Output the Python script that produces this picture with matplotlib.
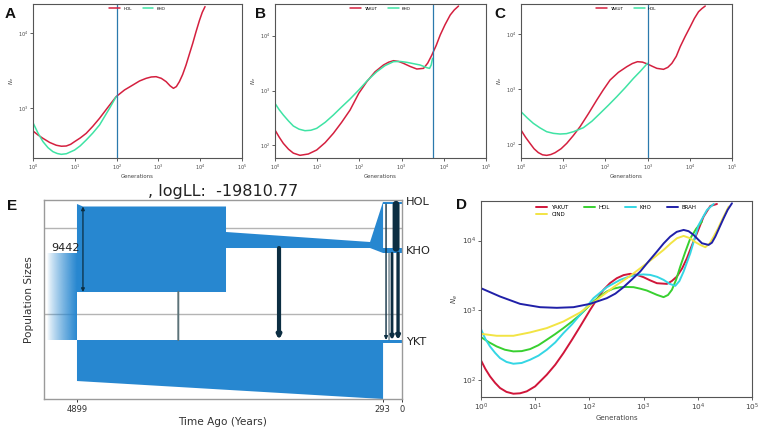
import numpy as np
import matplotlib
matplotlib.use("Agg")
import matplotlib.pyplot as plt
from matplotlib.ticker import LogLocator, NullLocator
import matplotlib.transforms as mtransforms

# ---------------- data ----------------
# Panels A-D: log10(generations) and log10(Ne)
A_hol_lg = [0.000, 0.12, 0.239, 0.40, 0.557, 0.68, 0.796, 0.90, 0.995, 1.13, 1.274, 1.43, 1.592, 1.791, 1.990, 2.19, 2.389, 2.55, 2.707, 2.83, 2.946, 3.07, 3.185, 3.28, 3.360, 3.43, 3.503, 3.58, 3.662, 3.74, 3.822, 3.90, 3.981, 4.05, 4.116]
A_hol_ln = [2.698, 2.645, 2.600, 2.545, 2.508, 2.495, 2.498, 2.520, 2.556, 2.605, 2.667, 2.760, 2.867, 3.013, 3.156, 3.245, 3.311, 3.365, 3.400, 3.418, 3.422, 3.400, 3.356, 3.300, 3.267, 3.290, 3.356, 3.450, 3.578, 3.720, 3.867, 4.020, 4.169, 4.280, 4.356]
A_kho_lg = [0.000, 0.12, 0.239, 0.36, 0.478, 0.58, 0.677, 0.80, 0.995, 1.13, 1.274, 1.43, 1.592, 1.831, 1.990]
A_kho_ln = [2.809, 2.670, 2.556, 2.475, 2.422, 2.398, 2.387, 2.395, 2.444, 2.500, 2.578, 2.670, 2.778, 3.000, 3.156]
A_split = 100

B_yak_lg = [0.000, 0.10, 0.198, 0.32, 0.435, 0.593, 0.791, 0.989, 1.19, 1.384, 1.58, 1.780, 1.986, 2.176, 2.37, 2.571, 2.69, 2.809, 2.93, 3.046, 3.20, 3.362, 3.521, 3.62, 3.718, 3.82, 3.916, 4.03, 4.153, 4.25, 4.351]
B_yak_ln = [2.280, 2.150, 2.036, 1.930, 1.858, 1.818, 1.842, 1.915, 2.050, 2.219, 2.420, 2.644, 2.948, 3.161, 3.340, 3.465, 3.515, 3.544, 3.530, 3.495, 3.440, 3.392, 3.404, 3.500, 3.647, 3.820, 4.012, 4.200, 4.377, 4.470, 4.541]
B_kho_lg = [0.000, 0.10, 0.198, 0.32, 0.435, 0.57, 0.712, 0.85, 0.989, 1.19, 1.384, 1.58, 1.780, 1.986, 2.20, 2.413, 2.61, 2.809, 2.97, 3.125, 3.28, 3.441, 3.600, 3.663, 3.703, 3.734]
B_kho_ln = [2.766, 2.650, 2.553, 2.445, 2.353, 2.295, 2.267, 2.275, 2.310, 2.420, 2.553, 2.700, 2.845, 3.009, 3.190, 3.343, 3.455, 3.526, 3.530, 3.514, 3.490, 3.465, 3.416, 3.404, 3.465, 3.587]
B_split = 5420

C_yak_lg = [0.000, 0.107, 0.214, 0.31, 0.411, 0.51, 0.609, 0.707, 0.807, 0.95, 1.084, 1.24, 1.400, 1.60, 1.796, 1.95, 2.112, 2.31, 2.508, 2.64, 2.761, 2.88, 2.998, 3.11, 3.220, 3.378, 3.48, 3.576, 3.68, 3.774, 3.89, 4.011, 4.11, 4.209, 4.29, 4.367]
C_yak_ln = [2.261, 2.130, 2.018, 1.920, 1.850, 1.810, 1.800, 1.815, 1.848, 1.920, 2.018, 2.160, 2.321, 2.560, 2.806, 2.990, 3.170, 3.310, 3.412, 3.470, 3.503, 3.495, 3.461, 3.420, 3.382, 3.364, 3.400, 3.473, 3.600, 3.776, 3.960, 4.139, 4.290, 4.412, 4.470, 4.515]
C_hol_lg = [0.000, 0.15, 0.293, 0.45, 0.609, 0.77, 0.926, 1.08, 1.242, 1.479, 1.68, 1.875, 2.07, 2.271, 2.47, 2.666, 2.83, 2.998]
C_hol_ln = [2.594, 2.480, 2.382, 2.300, 2.230, 2.200, 2.188, 2.195, 2.230, 2.303, 2.420, 2.564, 2.710, 2.867, 3.030, 3.200, 3.330, 3.473]
C_split = 1000

D_yak_lg = [0.000, 0.08, 0.166, 0.26, 0.351, 0.47, 0.597, 0.72, 0.844, 0.998, 1.213, 1.37, 1.521, 1.68, 1.829, 2.014, 2.14, 2.260, 2.38, 2.506, 2.63, 2.752, 2.87, 2.999, 3.12, 3.245, 3.430, 3.52, 3.614, 3.71, 3.799, 3.89, 3.984, 4.107, 4.230, 4.353]
D_yak_ln = [2.282, 2.160, 2.053, 1.960, 1.886, 1.830, 1.804, 1.810, 1.838, 1.909, 2.076, 2.220, 2.387, 2.580, 2.768, 3.007, 3.160, 3.294, 3.390, 3.461, 3.505, 3.523, 3.510, 3.475, 3.430, 3.389, 3.379, 3.420, 3.484, 3.600, 3.747, 3.930, 4.105, 4.344, 4.496, 4.525]
D_hol_lg = [0.000, 0.14, 0.289, 0.44, 0.597, 0.75, 0.905, 1.06, 1.213, 1.37, 1.521, 1.68, 1.829, 2.075, 2.20, 2.321, 2.44, 2.568, 2.69, 2.814, 2.94, 3.060, 3.245, 3.368, 3.45, 3.522, 3.60, 3.676, 3.77, 3.861, 3.97, 4.076]
D_hol_ln = [2.616, 2.545, 2.482, 2.435, 2.411, 2.415, 2.444, 2.500, 2.578, 2.660, 2.745, 2.840, 2.936, 3.126, 3.205, 3.270, 3.310, 3.332, 3.335, 3.332, 3.310, 3.284, 3.222, 3.189, 3.220, 3.294, 3.440, 3.628, 3.840, 4.031, 4.170, 4.272]
D_kho_lg = [0.000, 0.08, 0.166, 0.26, 0.351, 0.47, 0.597, 0.75, 0.905, 1.06, 1.213, 1.37, 1.521, 1.68, 1.829, 2.075, 2.321, 2.568, 2.72, 2.876, 3.00, 3.122, 3.25, 3.368, 3.48, 3.584, 3.66, 3.738, 3.861, 4.015, 4.169, 4.292]
D_kho_ln = [2.730, 2.590, 2.482, 2.390, 2.315, 2.260, 2.234, 2.245, 2.291, 2.350, 2.434, 2.540, 2.673, 2.800, 2.936, 3.174, 3.332, 3.437, 3.480, 3.508, 3.515, 3.508, 3.480, 3.437, 3.380, 3.351, 3.420, 3.556, 3.819, 4.224, 4.439, 4.525]
D_brah_lg = [0.000, 0.351, 0.720, 1.090, 1.398, 1.706, 2.014, 2.321, 2.48, 2.629, 2.78, 2.937, 3.09, 3.245, 3.37, 3.491, 3.61, 3.738, 3.83, 3.923, 4.00, 4.076, 4.199, 4.26, 4.323, 4.40, 4.476, 4.55, 4.630]
D_brah_ln = [3.317, 3.198, 3.093, 3.045, 3.036, 3.045, 3.093, 3.174, 3.240, 3.332, 3.440, 3.556, 3.700, 3.842, 3.960, 4.057, 4.125, 4.153, 4.135, 4.081, 4.020, 3.962, 3.938, 3.970, 4.057, 4.190, 4.320, 4.440, 4.535]
D_cind_lg = [0.000, 0.289, 0.597, 0.905, 1.213, 1.521, 1.829, 2.137, 2.445, 2.752, 3.060, 3.368, 3.50, 3.614, 3.738, 3.861, 3.95, 4.046, 4.138, 4.22, 4.292, 4.37, 4.446, 4.569]
D_cind_ln = [2.663, 2.635, 2.635, 2.683, 2.745, 2.840, 2.969, 3.150, 3.332, 3.494, 3.675, 3.866, 3.960, 4.033, 4.067, 4.033, 3.980, 3.938, 3.905, 3.960, 4.057, 4.170, 4.296, 4.487]

# Panel E: demographic model (time in years ago, vertical axis in plot units)
E_title = ", logLL:  -19810.77"
E_ticks = [4899, 293, 0]
E_pop_names = ["HOL", "KHO", "YKT"]
E_pop_y = [197, 148, 57.5]
E_anc_label = "9442"
ANC_t = [5351, 4899]
ANC_y = [59, 145]
ROOT_t = [4899, 4809, 2653, 2653, 4899]
ROOT_y = [195, 192.5, 192.5, 107, 107]
KHOANC_t = [2653, 482, 286, 286, 482, 2653]
KHOANC_y = [167, 157, 197.3, 146, 151, 151]
HOL_t = [286, 0, 0, 286]
HOL_y = [194.7, 194.7, 197.3, 197.3]
KHO_t = [286, 0, 0, 286]
KHO_y = [145.7, 145.7, 150.7, 150.7]
YKTANC_t = [4899, 286, 286, 4899]
YKTANC_y = [59, 59, 0, 18]
YKT_t = [286, 0, 0, 286]
YKT_y = [56, 56, 59, 59]
MIG_t = [4809, 3372, 1854, 241, 196, 151, 90, 60]
MIG_from = [192.5, 107, 151, 194.7, 145.7, 145.7, 194.7, 145.7]
MIG_to = [107, 59, 59, 59, 59, 59, 150.7, 59]

# ---------------- styling ----------------
RED = "#d4203f"
AQUA = "#3fe3a4"
VLINE = "#2b79ad"
D_RED, D_GREEN, D_CYAN, D_BLUE, D_YEL = "#d0163a", "#38d030", "#34d6e4", "#2020a8", "#f2e444"
BLUE = "#2787d0"
DARK = "#0c2e42"

fig = plt.figure(figsize=(7.6, 4.29), dpi=100)


def log_axes(rect, ylg, fs_tick, fs_lab, ylabelpad):
    ax = fig.add_axes(rect)
    ax.set_xscale("log")
    ax.set_yscale("log")
    ax.set_xlim(1, 1e5)
    ax.set_ylim(10 ** ylg[0], 10 ** ylg[1])
    ax.xaxis.set_major_locator(LogLocator(base=10, numticks=10))
    ax.yaxis.set_major_locator(LogLocator(base=10, numticks=10))
    ax.xaxis.set_minor_locator(NullLocator())
    ax.yaxis.set_minor_locator(NullLocator())
    ax.tick_params(labelsize=fs_tick, length=2, width=0.6, colors="#444444", pad=1.5)
    for s in ax.spines.values():
        s.set_color("#555555")
        s.set_linewidth(0.8)
    ax.set_xlabel("Generations", fontsize=fs_lab, labelpad=1, color="#444444")
    ax.set_ylabel("$N_e$", fontsize=fs_lab, labelpad=ylabelpad, color="#444444")
    return ax


def curve(ax, lg, ln, color, label, lw):
    ax.plot(10 ** np.array(lg), 10 ** np.array(ln), color=color, lw=lw, label=label,
            solid_joinstyle="round", solid_capstyle="round")


# Panel A
axA = log_axes([0.0434, 0.6317, 0.275, 0.359], (2.338, 4.391), 3.5, 3.9, 1.5)
curve(axA, A_hol_lg, A_hol_ln, RED, "HOL", 1.1)
curve(axA, A_kho_lg, A_kho_ln, AQUA, "KHO", 1.1)
axA.axvline(A_split, color=VLINE, lw=0.9)
axA.legend(loc="upper center", ncol=2, fontsize=3, frameon=False, handlelength=2.6,
           columnspacing=2.5, borderaxespad=0.3)

# Panel B
axB = log_axes([0.3618, 0.6317, 0.2776, 0.359], (1.769, 4.578), 3.5, 3.9, 1.5)
curve(axB, B_yak_lg, B_yak_ln, RED, "YAKUT", 1.1)
curve(axB, B_kho_lg, B_kho_ln, AQUA, "KHO", 1.1)
axB.axvline(B_split, color=VLINE, lw=0.9)
axB.legend(loc="upper center", ncol=2, fontsize=3, frameon=False, handlelength=2.6,
           columnspacing=2.5, borderaxespad=0.3)

# Panel C
axC = log_axes([0.6855, 0.6317, 0.2776, 0.359], (1.752, 4.552), 3.5, 3.9, 1.5)
curve(axC, C_yak_lg, C_yak_ln, RED, "YAKUT", 1.1)
curve(axC, C_hol_lg, C_hol_ln, AQUA, "HOL", 1.1)
axC.axvline(C_split, color=VLINE, lw=0.9)
axC.legend(loc="upper center", ncol=2, fontsize=3, frameon=False, handlelength=2.6,
           columnspacing=2.5, borderaxespad=0.3)

# Panel D
axD = log_axes([0.6329, 0.0746, 0.3566, 0.4569], (1.757, 4.568), 5.3, 5.0, 1.5)
curve(axD, D_yak_lg, D_yak_ln, D_RED, "YAKUT", 1.4)
curve(axD, D_hol_lg, D_hol_ln, D_GREEN, "HOL", 1.4)
curve(axD, D_kho_lg, D_kho_ln, D_CYAN, "KHO", 1.4)
curve(axD, D_cind_lg, D_cind_ln, D_YEL, "CIND", 1.4)
curve(axD, D_brah_lg, D_brah_ln, D_BLUE, "BRAH", 1.4)
h, l = axD.get_legend_handles_labels()
order = [l.index(n) for n in ["YAKUT", "CIND", "HOL", "KHO", "BRAH"]]
axD.legend([h[i] for i in order], [l[i] for i in order], loc="upper center", ncol=4,
           fontsize=4, frameon=False, handlelength=2.0, handletextpad=0.7,
           columnspacing=2.7, labelspacing=0.45, borderaxespad=0.3)

# Panel E
axE = fig.add_axes([0.0579, 0.0699, 0.4711, 0.4639])
axE.set_axisbelow(True)
grad = np.zeros((2, 256, 4))
grad[..., 0], grad[..., 1], grad[..., 2] = 0x27 / 255, 0x87 / 255, 0xd0 / 255
grad[..., 3] = np.linspace(0, 1, 256) ** 0.8
axE.imshow(grad, extent=(ANC_t[0], ANC_t[1], ANC_y[0], ANC_y[1]), aspect="auto",
           interpolation="bilinear", zorder=1)
for tt, yy in [(ROOT_t, ROOT_y), (KHOANC_t, KHOANC_y), (HOL_t, HOL_y), (KHO_t, KHO_y),
               (YKTANC_t, YKTANC_y), (YKT_t, YKT_y)]:
    axE.fill(tt, yy, color=BLUE, lw=0, zorder=2)

mig_style = [("<|-|>", DARK, 0.9), ("-", "#5c7379", 1.4), ("-|>", DARK, 3.0),
             ("-|>", DARK, 1.0), ("-", "#4d6470", 0.8), ("-|>", DARK, 2.0),
             ("-", DARK, 5.0), ("-|>", DARK, 2.4)]
for t0, y0, y1, (st, col, w) in zip(MIG_t, MIG_from, MIG_to, mig_style):
    axE.annotate("", xy=(t0, y1), xytext=(t0, y0),
                 arrowprops=dict(arrowstyle=st, color=col, lw=w, shrinkA=0, shrinkB=0,
                                 mutation_scale=5), zorder=3)

axE.set_xlim(5396, 0)
axE.set_ylim(0, 199)
axE.set_xticks(E_ticks)
axE.set_xticklabels([str(v) for v in E_ticks])
axE.set_yticks([85, 171])
axE.set_yticklabels([])
axE.tick_params(axis="y", length=0)
axE.tick_params(axis="x", labelsize=6, length=2.5, width=0.7, colors="#333333", pad=2)
axE.grid(axis="y", color="#b4b4b4", lw=1)
for s in axE.spines.values():
    s.set_color("#9a9a9a")
    s.set_linewidth(1)
axE.set_xlabel("Time Ago (Years)", fontsize=7.6, color="#333333", labelpad=2)
axE.set_ylabel("Population Sizes", fontsize=7.6, color="#333333", labelpad=4)
axE.set_title(E_title, fontsize=11.5, color="#222222", pad=3)
axE.text(5291, 151, E_anc_label, fontsize=8, color="#222222", ha="left", va="center", zorder=4)
trans = mtransforms.blended_transform_factory(axE.transAxes, axE.transData)
for name, yv in zip(E_pop_names, E_pop_y):
    axE.text(1.012, yv, name, transform=trans, fontsize=8.2, color="#222222",
             ha="left", va="center", clip_on=False)

# Panel letters
for ch, x, y in [("A", 0.0066, 0.958), ("B", 0.3355, 0.958), ("C", 0.650, 0.958),
                 ("D", 0.600, 0.5128), ("E", 0.0092, 0.5105)]:
    fig.text(x, y, ch, fontsize=11, fontweight="bold", family="Liberation Sans",
             va="baseline", ha="left", color="#111111")

fig.savefig("out.png", dpi=100)
